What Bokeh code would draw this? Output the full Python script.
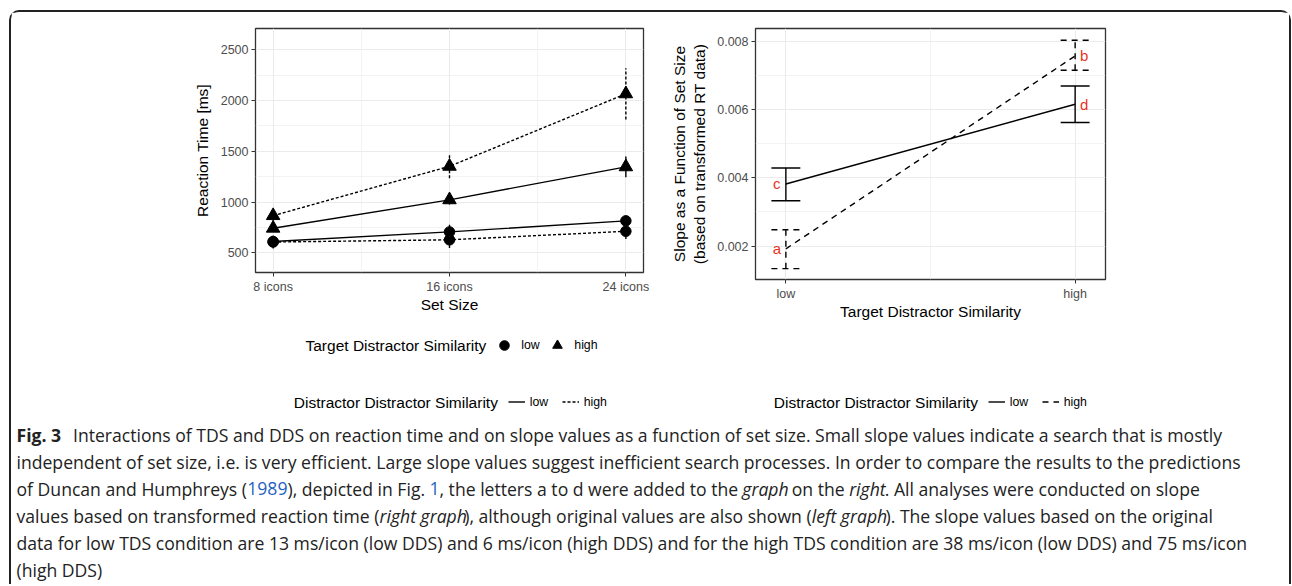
import numpy as np
from bokeh.plotting import figure
from bokeh.models import (Range1d, FixedTicker, Legend, LegendItem, Label,
                          PrintfTickFormatter, ColumnDataSource)
from bokeh.layouts import row, column
from bokeh.embed import file_html
from bokeh.resources import INLINE
from bokeh.core.properties import value

FONT = "Liberation Sans"

# ---------------- data: left panel (reaction times) ----------------
set_sizes = [8, 16, 24]
set_size_labels = ["8 icons", "16 icons", "24 icons"]
rt_low_tds_low_dds = [612, 706, 815]
rt_low_tds_high_dds = [606, 628, 712]
rt_high_tds_low_dds = [742, 1022, 1347]
rt_high_tds_high_dds = [866, 1352, 2066]
err_low_tds_low_dds = [45, 70, 40]
err_low_tds_high_dds = [63, 80, 75]
err_high_tds_low_dds = [35, 45, 102]
err_high_tds_high_dds = [50, 118, 253]
rt_ticks = [500, 1000, 1500, 2000, 2500]
rt_minor = [750, 1250, 1750, 2250]

# ---------------- data: right panel (slopes) ----------------
tds_levels = ["low", "high"]
tds_pos = [0, 1]
slope_low_dds = [0.00382, 0.006155]
slope_low_dds_lower = [0.00333, 0.00562]
slope_low_dds_upper = [0.00429, 0.00669]
slope_high_dds = [0.00192, 0.00757]
slope_high_dds_lower = [0.00134, 0.00715]
slope_high_dds_upper = [0.00248, 0.00803]
letters_low_dds = ["c", "d"]
letters_high_dds = ["a", "b"]
slope_ticks = [0.002, 0.004, 0.006, 0.008]
slope_minor = [0.003, 0.005, 0.007]

# ---------------- legend texts ----------------
tds_title = "Target Distractor Similarity"
dds_title = "Distractor Distractor Similarity"
level_labels = ["low", "high"]

DOTTED = "3 2"
DASHED = "6 5"
LW = 1.4


def style(p, xticker, yticker):
    p.outline_line_color = "#333333"
    p.outline_line_width = 1.3
    p.xaxis.ticker = xticker
    p.yaxis.ticker = yticker
    for ax in (p.xaxis[0], p.yaxis[0]):
        ax.axis_line_color = None
        ax.major_tick_line_color = "#333333"
        ax.major_tick_out = 4
        ax.major_tick_in = 0
        ax.minor_tick_line_color = None
        ax.major_label_text_font = FONT
        ax.major_label_text_font_size = "12.5px"
        ax.major_label_text_color = "#4d4d4d"
        ax.major_label_standoff = 3
        ax.axis_label_text_font = FONT
        ax.axis_label_text_font_size = "15.5px"
        ax.axis_label_text_font_style = "normal"
        ax.axis_label_text_color = "black"
    for g in (p.xgrid[0], p.ygrid[0]):
        g.grid_line_color = "#ebebeb"
        g.grid_line_width = 1.1
        g.minor_grid_line_color = "#ebebeb"
        g.minor_grid_line_width = 0.6


# ================= left figure =================
p1 = figure(frame_width=388, frame_height=244, x_range=Range1d(7.2, 24.8),
            y_range=Range1d(306, 2710), output_backend="svg",
            toolbar_location=None, min_border_left=244, min_border_right=17,
            min_border_top=16, min_border_bottom=54)
style(p1, FixedTicker(ticks=set_sizes, minor_ticks=[12, 20]),
      FixedTicker(ticks=rt_ticks, minor_ticks=rt_minor))
p1.xaxis.major_label_overrides = {s: l for s, l in zip(set_sizes, set_size_labels)}
p1.xaxis.axis_label = "Set Size"
p1.yaxis.axis_label = "Reaction Time [ms]"
p1.xaxis.axis_label_standoff = -1
p1.yaxis.axis_label_standoff = 7

series = [
    (rt_low_tds_low_dds, err_low_tds_low_dds, "circle", None),
    (rt_low_tds_high_dds, err_low_tds_high_dds, "circle", DOTTED),
    (rt_high_tds_low_dds, err_high_tds_low_dds, "triangle", None),
    (rt_high_tds_high_dds, err_high_tds_high_dds, "triangle", DOTTED),
]
for vals, errs, mk, dash in series:
    v = np.array(vals, dtype=float)
    e = np.array(errs, dtype=float)
    kw = {} if dash is None else {"line_dash": dash}
    p1.line(set_sizes, vals, line_color="black", line_width=LW, **kw)
    p1.segment(x0=set_sizes, y0=v - e, x1=set_sizes, y1=v + e,
               line_color="black", line_width=LW, **kw)
    p1.scatter(set_sizes, vals, marker=mk, size=10.5 if mk == "circle" else 13.5,
               fill_color="black", line_color="black")

# ================= right figure =================
p2 = figure(frame_width=350, frame_height=251, x_range=Range1d(-0.105, 1.105),
            y_range=Range1d(0.001023, 0.008373), output_backend="svg",
            toolbar_location=None, min_border_left=95, min_border_right=184,
            min_border_top=16, min_border_bottom=47)
style(p2, FixedTicker(ticks=tds_pos, minor_ticks=[0.5]),
      FixedTicker(ticks=slope_ticks, minor_ticks=slope_minor))
p2.xaxis.major_label_overrides = {s: l for s, l in zip(tds_pos, tds_levels)}
p2.yaxis.formatter = PrintfTickFormatter(format="%.3f")
p2.xaxis.axis_label = "Target Distractor Similarity"
p2.yaxis.axis_label = "Slope as a Function of Set Size\n(based on transformed RT data)"
p2.xaxis.axis_label_standoff = -1
p2.yaxis.axis_label_standoff = 6

CAP = 0.05
for mean, lo, hi, letters, dash in [
        (slope_low_dds, slope_low_dds_lower, slope_low_dds_upper, letters_low_dds, None),
        (slope_high_dds, slope_high_dds_lower, slope_high_dds_upper, letters_high_dds, DASHED)]:
    kw = {} if dash is None else {"line_dash": dash}
    x = np.array(tds_pos, dtype=float)
    p2.line(tds_pos, mean, line_color="black", line_width=LW, **kw)
    p2.segment(x0=tds_pos, y0=lo, x1=tds_pos, y1=hi, line_color="black", line_width=LW, **kw)
    p2.segment(x0=x - CAP, y0=lo, x1=x + CAP, y1=lo, line_color="black", line_width=LW, **kw)
    p2.segment(x0=x - CAP, y0=hi, x1=x + CAP, y1=hi, line_color="black", line_width=LW, **kw)
    src = ColumnDataSource(dict(x=tds_pos, y=mean, t=letters, dx=[-9, 9]))
    p2.text(x="x", y="y", text="t", x_offset="dx", source=src, text_color="#ea3323",
            text_font=value(FONT), text_font_size="15px", text_align="center",
            text_baseline="middle")

# ================= legends strip =================
LWID, LH = 1278, 87
p4 = figure(width=LWID, height=LH, x_range=Range1d(0, LWID), y_range=Range1d(0, LH),
            output_backend="svg", toolbar_location=None, min_border=0,
            x_axis_type=None, y_axis_type=None)
p4.outline_line_color = None
p4.xgrid.visible = False
p4.ygrid.visible = False

NAN = [np.nan]
k_circle = p4.scatter(x=NAN, y=NAN, marker="circle", fill_color="black", line_color="black")
k_tri = p4.scatter(x=NAN, y=NAN, marker="triangle", fill_color="black", line_color="black")
k_solid = p4.line(x=NAN, y=NAN, line_color="black", line_width=LW)
k_dotted = p4.line(x=NAN, y=NAN, line_color="black", line_width=LW, line_dash=DOTTED)
k_solid2 = p4.line(x=NAN, y=NAN, line_color="black", line_width=LW)
k_dashed = p4.line(x=NAN, y=NAN, line_color="black", line_width=LW, line_dash=DASHED)


def legend(items, loc, standoff, spacing, gw, gh):
    return Legend(items=items, orientation="horizontal", location=loc,
                  border_line_color=None, background_fill_alpha=0,
                  padding=0, margin=0, spacing=spacing, label_standoff=standoff,
                  glyph_width=gw, glyph_height=gh, label_height=17,
                  label_text_font=FONT, label_text_font_size="12.3px",
                  label_text_color="black")


def title_label(x, y, text):
    return Label(x=x, y=y, text=text, text_font=FONT, text_font_size="15.5px",
                 text_color="black", text_baseline="middle", text_align="left")


OX, OY = 11, 415   # page offset of the strip (left edge, bottom edge)
p4.add_layout(title_label(305 - OX, OY - 346.7, tds_title))
p4.add_layout(legend([LegendItem(label=level_labels[0], renderers=[k_circle]),
                      LegendItem(label=level_labels[1], renderers=[k_tri])],
                     (492.3 - OX, OY - 358.7), 5, 4, 24, 24))
p4.add_layout(title_label(293.3 - OX, OY - 403.5, dds_title))
p4.add_layout(legend([LegendItem(label=level_labels[0], renderers=[k_solid]),
                      LegendItem(label=level_labels[1], renderers=[k_dotted])],
                     (507.7 - OX, OY - 412), 5, 12, 17, 17))
p4.add_layout(title_label(773.3 - OX, OY - 403.5, dds_title))
p4.add_layout(legend([LegendItem(label=level_labels[0], renderers=[k_solid2]),
                      LegendItem(label=level_labels[1], renderers=[k_dashed])],
                     (987.7 - OX, OY - 412), 5, 12, 17, 17))

# ================= caption =================
CW, CH = 1278, 171
p3 = figure(width=CW, height=CH, x_range=Range1d(0, CW), y_range=Range1d(0, CH),
            output_backend="svg", toolbar_location=None, min_border=0,
            x_axis_type=None, y_axis_type=None)
p3.outline_line_color = None
p3.xgrid.visible = False
p3.ygrid.visible = False

# Open Sans advance widths (units of 1/2048 em) for text layout
OS = {' ': 532, '(': 596, ')': 596, ',': 502, '.': 545, '/': 752, '-': 659,
      'A': 1296, 'D': 1493, 'F': 1057, 'H': 1511, 'I': 571, 'L': 1098, 'S': 1104, 'T': 1122,
      'a': 1139, 'b': 1255, 'c': 975, 'd': 1255, 'e': 1149, 'f': 694, 'g': 1122, 'h': 1257,
      'i': 518, 'j': 518, 'k': 1075, 'l': 518, 'm': 1905, 'n': 1257, 'o': 1237, 'p': 1255,
      'q': 1255, 'r': 836, 's': 977, 't': 723, 'u': 1257, 'v': 1026, 'w': 1593, 'x': 1073,
      'y': 1028, 'z': 977}
for dgt in "0123456789":
    OS[dgt] = 1171


def em(s):
    return sum(OS.get(c, 1139) for c in s) / 2048


cap1_rest = "Interactions of TDS and DDS on reaction time and on slope values as a function of set size. Small slope values indicate a search that is mostly"
cap2 = "independent of set size, i.e. is very efficient. Large slope values suggest inefficient search processes. In order to compare the results to the predictions"
cap5 = "data for low TDS condition are 13 ms/icon (low DDS) and 6 ms/icon (high DDS) and for the high TDS condition are 38 ms/icon (low DDS) and 75 ms/icon"
# calibration of the width table against measured rendering (em widths)
K = np.mean([65.34 / em(cap1_rest), 69.6 / em(cap2), 69.9 / em(cap5)])
ITALIC_W = 0.93

CFONT = "Open Sans"
FS = 17.6
DARK = "#222222"
BLUE = "#1f5fbf"
N, B, I = "normal", "bold", "italic"
caption_lines = [
    [("Fig. 3", B, DARK), (" " + cap1_rest, N, DARK)],
    [(cap2, N, DARK)],
    [("of Duncan and Humphreys (", N, DARK), ("1989", N, BLUE),
     ("), depicted in Fig. ", N, DARK), ("1", N, BLUE),
     (", the letters a to d were added to the ", N, DARK), ("graph", I, DARK),
     (" on the ", N, DARK), ("right", I, DARK),
     (". All analyses were conducted on slope", N, DARK)],
    [("values based on transformed reaction time (", N, DARK), ("right graph", I, DARK),
     ("), although original values are also shown (", N, DARK), ("left graph", I, DARK),
     ("). The slope values based on the original", N, DARK)],
    [(cap5, N, DARK)],
    [("(high DDS)", N, DARK)],
]
line_y = [436, 463, 490, 517, 544, 571]
SP = em(" ") * K * FS
for segs, py in zip(caption_lines, line_y):
    x = 16 - OX
    for text, fs, col in segs:
        if fs == B:
            p3.add_layout(Label(x=x, y=CH - (py - 415), text=text, text_font=CFONT,
                                text_font_size=f"{FS}px", text_font_style=fs,
                                text_color=col, text_baseline="middle", text_align="left"))
            x = 72.5 - OX - SP
            continue
        lead = len(text) - len(text.lstrip(" "))
        core = text.strip(" ")
        trail = len(text) - len(text.rstrip(" "))
        x += lead * SP
        p3.add_layout(Label(x=x, y=CH - (py - 415), text=core, text_font=CFONT,
                            text_font_size=f"{FS}px", text_font_style=fs,
                            text_color=col, text_baseline="middle", text_align="left"))
        w = em(core) * K * FS * (ITALIC_W if fs == I else 1.0)
        x += w + trail * SP

layout = column(row(p1, p2), p4, p3, margin=(10, 0, 0, 9),
                styles={"border-left": "2px solid #222", "border-top": "2px solid #222",
                        "border-right": "2px solid #222",
                        "border-top-left-radius": "10px", "border-top-right-radius": "10px"})

open("out.html", "w").write(file_html(layout, INLINE))
